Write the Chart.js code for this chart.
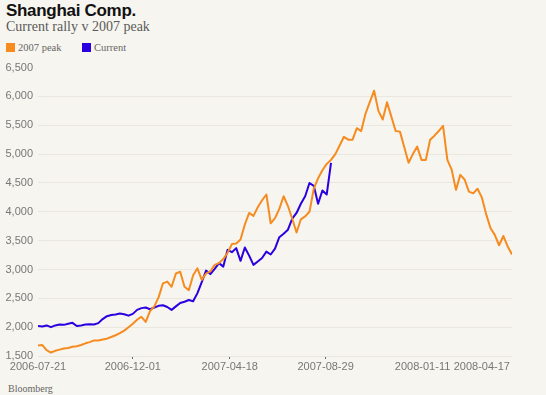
<!DOCTYPE html>
<html>
<head>
<meta charset="utf-8">
<script src="https://cdn.jsdelivr.net/npm/chart.js@4"></script>
<style>
  html, body { margin: 0; padding: 0; background: #f7f5ef; }
  body { width: 546px; height: 395px; position: relative; overflow: hidden; }
  #title { position: absolute; left: 6px; top: 1px; font: bold 17px "Liberation Sans", Arial, sans-serif; color: #111; letter-spacing: -0.3px; }
  #subtitle { position: absolute; left: 6px; top: 19px; font: 14px "Liberation Serif", serif; color: #5a5a5a; }
  #legend { position: absolute; left: 6px; top: 41px; font: 10.5px "Liberation Serif", serif; color: #666; }
  #legend span { display: inline-block; vertical-align: middle; }
  .sw { width: 9px; height: 9px; margin-right: 3px; }
  #source { position: absolute; left: 8px; top: 383px; font: 10px "Liberation Serif", serif; color: #666; }
  #wrap { position: absolute; left: 0; top: 56px; width: 546px; height: 320px; }
</style>
</head>
<body>
<div id="title">Shanghai Comp.</div>
<div id="subtitle">Current rally v 2007 peak</div>
<div id="legend">
  <span class="sw" style="background:#f68b1f"></span><span style="margin-right:18px">2007 peak</span>
  <span class="sw" style="background:#2a00e0"></span><span>Current</span>
</div>
<div id="wrap"><canvas id="myChart" width="546" height="320"></canvas></div>
<div id="source">Bloomberg</div>
<script>
// trading-day index, one value every 4 sessions
const step = 4;
const tickLabels = ['2006-07-21', '2006-12-01', '2007-04-18', '2007-08-29', '2008-01-11', '2008-04-17'];
const tickDays = [0, 88, 178, 267, 357, 412];

const peak2007 = [
  1680, 1690, 1600, 1560, 1590, 1610, 1630, 1640, 1660, 1670,
  1690, 1720, 1740, 1770, 1770, 1785, 1800, 1830, 1860, 1895,
  1940, 2000, 2060, 2130, 2180, 2090, 2280, 2360, 2520, 2760,
  2790, 2700, 2930, 2960, 2700, 2640, 2900, 3020, 2820, 2930,
  2970, 3080, 3110, 3180, 3290, 3440, 3450, 3520, 3780, 3980,
  3930, 4080, 4200, 4300, 3800, 3890, 4050, 4270, 4100, 3880,
  3640, 3870, 3920, 4000, 4400, 4580, 4720, 4830, 4900, 5000,
  5150, 5300, 5250, 5250, 5450, 5400, 5700, 5900, 6100, 5750,
  5600, 5900, 5650, 5400, 5390, 5120, 4850, 5000, 5130, 4900,
  4900, 5250, 5320, 5400, 5490, 4900, 4730, 4380, 4640, 4560,
  4350, 4320, 4400, 4250, 3960, 3720, 3600, 3420, 3580, 3400,
  3260
];

const current = [
  2020, 2010, 2030, 2000, 2030, 2045, 2040, 2060, 2075, 2020,
  2030, 2045, 2050, 2045, 2070, 2140, 2190, 2210, 2220, 2235,
  2225, 2200, 2230, 2300, 2330, 2340, 2310, 2340, 2370, 2380,
  2350, 2300, 2360, 2420, 2440, 2470, 2450, 2590, 2780, 2980,
  2920, 3010, 3110, 3050, 3340, 3300, 3370, 3150, 3380, 3240,
  3080, 3140, 3200, 3310, 3260, 3360, 3560, 3620, 3690, 3880,
  3980, 4140, 4270, 4500, 4450, 4140, 4370, 4300, 4850
];

const toPoints = arr => arr.map((v, i) => ({ x: i * step, y: v }));

const ctx = document.getElementById('myChart').getContext('2d');

var graphData = {
  type: 'line',
  data: {
    datasets: [{
      label: '2007 peak',
      data: toPoints(peak2007),
      borderColor: '#f68b1f',
      borderWidth: 2,
      pointRadius: 0,
      tension: 0,
      borderJoinStyle: 'round'
    }, {
      label: 'Current',
      data: toPoints(current),
      borderColor: '#2a00e0',
      borderWidth: 2,
      pointRadius: 0,
      tension: 0,
      borderJoinStyle: 'round'
    }]
  },
  options: {
    responsive: false,
    animation: false,
    layout: { padding: { top: 10, right: 34, left: 0, bottom: 0 } },
    plugins: { legend: { display: false }, tooltip: { enabled: false } },
    scales: {
      x: {
        type: 'linear',
        min: 0,
        max: (peak2007.length - 1) * step,
        afterBuildTicks: axis => { axis.ticks = tickDays.map(v => ({ value: v })); },
        afterFit: axis => { axis.height = 20; },
        border: { display: false },
        grid: {
          drawOnChartArea: false,
          drawTicks: true,
          tickLength: 3,
          tickColor: c => (c.index >= 1 && c.index <= 3) ? '#666' : 'rgba(0,0,0,0)'
        },
        ticks: {
          autoSkip: false,
          maxRotation: 0,
          padding: 1,
          color: '#777',
          font: { family: 'Liberation Sans', size: 11 },
          callback: (value, index) => tickLabels[index]
        }
      },
      y: {
        min: 1500,
        max: 6500,
        afterFit: axis => { axis.width = 38; },
        border: { display: false },
        grid: {
          drawTicks: false,
          color: c => c.tick && c.tick.value === 6500 ? 'rgba(0,0,0,0)' : '#e9e7e0'
        },
        ticks: {
          stepSize: 500,
          padding: 5,
          color: '#777',
          font: { family: 'Liberation Sans', size: 11 },
          callback: v => v.toLocaleString('en-US')
        }
      }
    }
  }
};

var myChart = new Chart(ctx, graphData);
</script>
</body>
</html>
